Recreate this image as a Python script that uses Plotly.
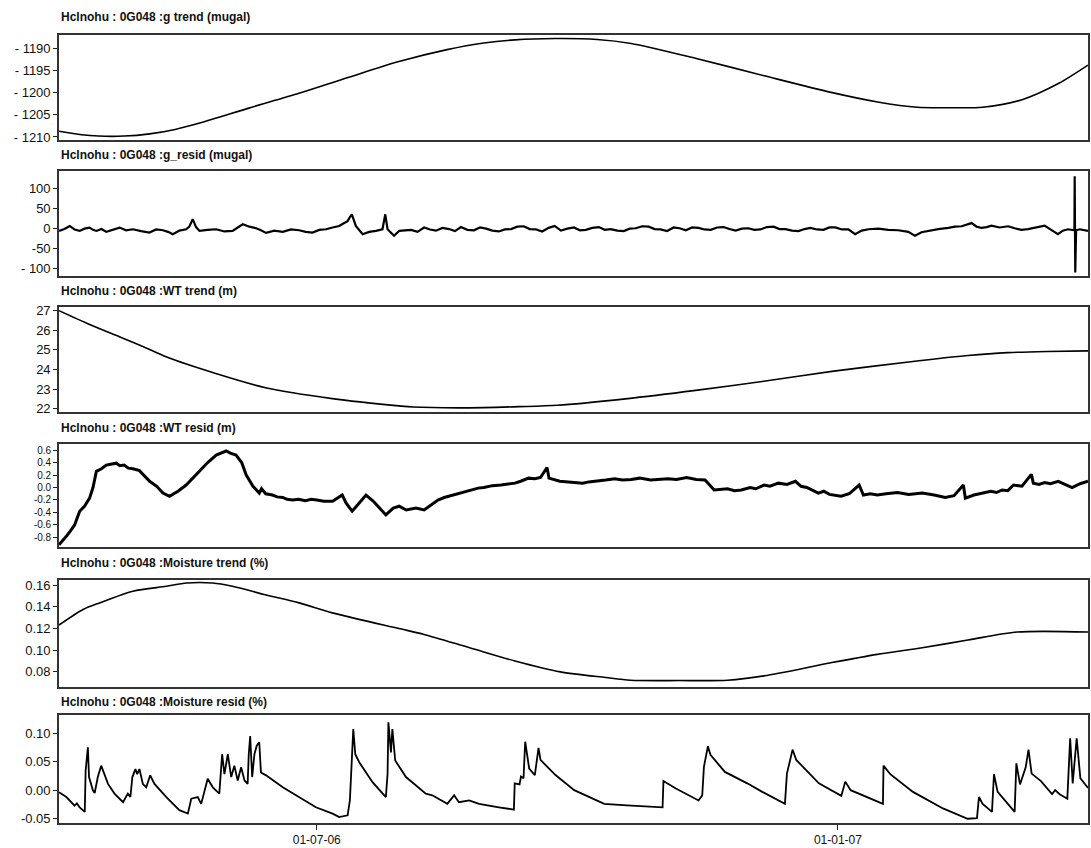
import pandas as pd
import plotly.graph_objects as go
from plotly.subplots import make_subplots

START = pd.Timestamp("2006-04-01")
END = START + pd.Timedelta(days=363.3)

# ---------------- data (days since 2006-04-01, values) ----------------
g_trend_days = [0, 8, 14, 23, 32, 41, 50, 67, 85, 102, 120, 137, 150, 161, 175, 190, 202,
                225, 249, 273, 289, 303, 314, 326, 340, 353, 363.3]
g_trend_vals = [-1208.7, -1209.5, -1209.8, -1209.8, -1209.3, -1208.3, -1206.8, -1203.5, -1200.1,
                -1196.6, -1193.0, -1190.3, -1188.8, -1188.1, -1187.8, -1188.0, -1188.9,
                -1192.3, -1196.2, -1200.0, -1202.1, -1203.3, -1203.4, -1203.3, -1201.6,
                -1197.9, -1193.8]

g_resid_days = [0, 1.9, 3.8, 5.5, 7.3, 9.0, 10.8, 12.0, 13.2, 15.0, 16.7, 19.0, 21.4, 23.7, 26.1,
                29.0, 31.9, 34.3, 36.7, 38.5, 40.2, 42.5, 44.9, 46.0, 47.2, 48.4, 49.6, 52.5,
                55.5, 58.4, 61.3, 63.1, 64.9, 67.2, 69.6, 71.3, 73.1, 76.0, 79.0, 81.9, 84.8,
                87.1, 89.5, 91.9, 94.3, 96.6, 98.9, 100.4, 101.9, 102.7, 103.4, 104.8, 106.0,
                107.2, 109.5, 111.9, 114.2, 115.2, 116.0, 118.3, 120.1, 124.3, 126.6, 128.9,
                131.0, 133.1, 135.4, 137.7, 139.8, 141.9, 144.2, 146.5, 148.6, 150.8, 153.0,
                155.3, 157.4, 159.6, 161.8, 164.1, 166.2, 168.4, 170.6, 172.9, 175.0, 177.2,
                179.5, 181.8, 183.9, 186.0, 188.3, 190.6, 192.7, 194.8, 197.1, 199.4, 201.5,
                203.6, 205.9, 208.2, 210.3, 212.4, 214.7, 217.0, 219.1, 221.3, 223.5, 225.8,
                227.9, 230.1, 232.3, 234.6, 236.7, 238.9, 241.1, 243.4, 245.5, 247.6, 249.9,
                252.3, 254.4, 256.5, 258.8, 261.1, 263.2, 265.3, 267.6, 269.9, 272.0, 274.1,
                276.4, 278.7, 281.1, 283.4, 285.8, 289.3, 292.8, 296.3, 299.9, 302.2, 304.5,
                306.9, 310.4, 314.0, 316.3, 318.7, 320.4, 322.2, 324.0, 325.7, 327.5, 329.2,
                332.1, 335.1, 337.4, 339.8, 342.1, 344.5, 346.2, 348.0, 350.3, 352.7, 354.4,
                356.2, 358.5, 358.6, 358.8, 359.1, 360.4, 361.8, 363.3]
g_resid_vals = [-6.7, -2, 5.8, -3, -6.7, -1, 1.7, -4, -6.7, -2, -9, -3, 1.7, -5, -2.5,
                -7, -10.8, -3, -5, -9, -15, -6, -2.5, 4, 22.5, 3, -6.7, -4,
                -2.5, -8, -6.7, 2, 10, 4, 0, -5, -11.7, -6, -9, -3, -5,
                -9, -10.8, -4, -2.5, 2, 5.8, 12, 18, 28, 35, 5.8, -5,
                -15, -9, -6.7, -2.5, 35, -2.5, -19, -6.7, -4, -9, 2,
                -3, -6, 1, -2, -7, 3, -4, -5, 2, -1, -6,
                -8, -3, -2, 4, 5, -2, -3, -8, 1, 6, -6,
                -1, 2, -5, -4, 1, 3, -4, -2, -6, -7, -1,
                0, 5, 4, -2, -3, -7, 2, 0, -5, 2, 1,
                -3, -4, 2, 3, -2, -6, -1, 0, -4, -3, 3,
                4, -2, -2, -6, -7, -2, 1, -3, -4, 2, 2,
                -3, -2.5, -15, -6, -2.5, -1, -4, -5, -9, -19, -10,
                -6.7, -2, 0.8, 4, 5, 9, 13, 4, 0.8, 3, 6.7,
                2, 5, 0, -4, -2, 0.8, 3, 6.7, -4, -15, -6,
                -2.5, -5, 130.8, -110.8, -5, -2.5, -4, -6.7]

wt_trend_days = [0, 10, 20.3, 30, 38, 55.6, 73.3, 96.5, 120, 125, 143.7, 162.4, 176, 200,
                 224.8, 250, 272.9, 300, 320.9, 335, 348.9, 363.3]
wt_trend_vals = [27.0, 26.35, 25.73, 25.15, 24.63, 23.78, 23.05, 22.51, 22.14, 22.08, 22.04,
                 22.10, 22.17, 22.5, 22.93, 23.42, 23.9, 24.38, 24.71, 24.86, 24.92, 24.95]

wt_resid_days = [0, 1.2, 2.6, 4.0, 5.5, 7.3, 9.0, 10.8, 12.0, 13.2, 15.0, 16.7, 18.5, 20.2,
                 21.5, 23.0, 24.5, 26.1, 28.4, 30.0, 32.0, 34.5, 36.7, 39.0, 42.0, 44.9, 47.0,
                 49.6, 52.5, 55.5, 59.0, 60.5, 62.5, 64.5, 66.1, 68.5, 70.7, 71.5, 73.0, 75.4,
                 77.0, 79.0, 80.5, 82.5, 84.5, 87.0, 89.0, 91.0, 93.5, 96.6, 100.0, 101.4,
                 103.5, 106.0, 108.4, 111.0, 114.1, 115.4, 118.0, 120.1, 122.6, 126.0, 128.9,
                 133.8, 136.0, 139.0, 142.0, 145.0, 148.0, 150.0, 153.0, 156.0, 158.5, 161.0,
                 163.0, 165.8, 168.0, 170.0, 172.3, 173.0, 176.8, 181.0, 184.9, 187.0, 190.0,
                 193.0, 196.2, 199.0, 202.0, 205.0, 208.9, 212.0, 215.0, 218.0, 221.6, 225.0,
                 228.1, 231.3, 233.5, 236.0, 238.5, 240.9, 244.0, 246.0, 248.9, 251.0, 254.0,
                 257.0, 260.0, 262.0, 264.0, 268.1, 270.0, 272.0, 276.1, 279.0, 282.5, 284.0,
                 286.5, 288.9, 292.0, 296.0, 300.0, 304.8, 309.0, 312.9, 316.0, 319.3, 320.0,
                 323.0, 325.0, 329.0, 331.0, 333.0, 335.0, 337.0, 340.0, 343.3, 344.0, 346.0,
                 348.0, 350.0, 352.8, 355.0, 357.7, 360.5, 363.3]
wt_resid_vals = [-0.917, -0.86, -0.78, -0.70, -0.60, -0.38, -0.30, -0.17, 0.0, 0.26, 0.30, 0.36,
                 0.37, 0.39, 0.35, 0.36, 0.31, 0.30, 0.27, 0.20, 0.10, 0.02, -0.09, -0.14,
                 -0.06, 0.04, 0.14, 0.26, 0.40, 0.52, 0.585, 0.55, 0.52, 0.40, 0.20, 0.02,
                 -0.09, -0.02, -0.10, -0.12, -0.15, -0.16, -0.19, -0.20, -0.19, -0.21, -0.19,
                 -0.20, -0.22, -0.22, -0.12, -0.25, -0.38, -0.25, -0.12, -0.22, -0.38, -0.44,
                 -0.33, -0.30, -0.36, -0.33, -0.36, -0.20, -0.16, -0.12, -0.08, -0.04, -0.01,
                 0.0, 0.03, 0.04, 0.06, 0.07, 0.10, 0.15, 0.14, 0.16, 0.32, 0.15, 0.10, 0.09,
                 0.07, 0.09, 0.10, 0.12, 0.14, 0.12, 0.13, 0.15, 0.12, 0.13, 0.14, 0.13, 0.16,
                 0.13, 0.12, -0.04, -0.03, -0.02, -0.05, -0.04, 0.0, -0.02, 0.04, 0.02, 0.07,
                 0.05, 0.10, 0.02, 0.0, -0.09, -0.06, -0.11, -0.14, -0.10, 0.04, -0.12, -0.10,
                 -0.12, -0.10, -0.08, -0.11, -0.09, -0.12, -0.16, -0.13, 0.04, -0.17, -0.12,
                 -0.10, -0.06, -0.08, -0.04, -0.05, 0.04, 0.02, 0.21, 0.07, 0.05, 0.08, 0.06,
                 0.10, 0.05, 0.0, 0.06, 0.10]

mo_trend_days = [0, 8.5, 14.3, 26.1, 37.9, 45, 54.2, 61.2, 73.1, 84.8, 96.5, 120, 128.9, 145.0,
                 161, 177, 193, 201.8, 218.8, 236.1, 248.9, 272.9, 288.9, 304.8, 320.9, 338.3,
                 363.3]
mo_trend_vals = [0.1232, 0.1376, 0.1437, 0.1545, 0.159, 0.162, 0.162, 0.159, 0.151, 0.1437,
                 0.1345, 0.120, 0.1146, 0.1023, 0.0901, 0.080, 0.0748, 0.0723, 0.0720, 0.0723,
                 0.0763, 0.0886, 0.0962, 0.1023, 0.1094, 0.1168, 0.1168]

mo_resid_days = [0, 2.6, 5.5, 6.3, 7.3, 9.1, 9.4, 10.2, 10.6, 12.0, 12.6, 13.7, 14.9, 16.1,
                 17.3, 19.6, 22.6, 24.3, 25.2, 25.9, 27.0, 27.6, 28.4, 29.6, 30.8, 32.2, 33.7,
                 37.9, 42.5, 45.5, 46.7, 49.0, 50.2, 52.5, 54.3, 56.6, 57.6, 58.4, 59.6, 60.8,
                 61.9, 63.1, 64.3, 65.5, 66.6, 67.0, 67.5, 68.2, 69.0, 69.8, 70.7, 71.3, 73.1,
                 79.0, 84.8, 90.7, 96.6, 98.9, 101.9, 102.7, 103.9, 104.6, 106.0, 110.7, 115.4,
                 116.0, 116.3, 117.2, 117.7, 118.7, 122.5, 129.5, 131.8, 137.1, 139.5, 141.2,
                 144.8, 148.3, 155.3, 160.6, 160.9, 162.6, 163.1, 164.0, 164.6, 165.3, 166.0,
                 168.0, 169.3, 170.0, 175.3, 181.9, 188.5, 192.5, 200.5, 213.1, 213.4, 217.8,
                 225.8, 227.1, 227.7, 229.1, 230.0, 235.1, 243.0, 248.3, 256.3, 257.0, 259.0,
                 260.3, 268.3, 276.2, 277.6, 279.5, 290.9, 291.1, 293.5, 294.8, 301.5, 312.1,
                 320.8, 324.1, 324.8, 326.1, 329.4, 330.1, 331.4, 337.4, 338.0, 339.3, 341.3,
                 342.3, 343.4, 346.7, 350.6, 351.7, 353.3, 356.0, 357.0, 357.9, 359.3, 360.6,
                 363.3]
mo_resid_vals = [-0.0035, -0.012, -0.027, -0.023, -0.030, -0.038, 0.034, 0.075, 0.023, -0.0006,
                 -0.005, 0.023, 0.043, 0.026, 0.011, -0.006, -0.021, -0.006, -0.012, 0.023,
                 0.037, 0.028, 0.037, 0.011, 0.005, 0.026, 0.011, -0.012, -0.035, -0.041,
                 -0.015, -0.012, -0.024, 0.020, 0.005, -0.006, 0.063, 0.028, 0.063, 0.023,
                 0.043, 0.017, 0.040, 0.017, 0.011, 0.063, 0.095, 0.023, 0.063, 0.078, 0.084,
                 0.031, 0.026, 0.005, -0.012, -0.030, -0.041, -0.047, -0.044, -0.018, 0.107,
                 0.063, 0.049, 0.014, -0.012, 0.028, 0.119, 0.066, 0.107, 0.052, 0.023,
                 -0.006, -0.009, -0.024, -0.009, -0.021, -0.018, -0.024, -0.030, -0.034,
                 0.012, 0.010, 0.024, 0.021, 0.085, 0.056, 0.038, 0.0265, 0.074, 0.053,
                 0.0265, 0.000, -0.015, -0.024, -0.0265, -0.030, 0.016, 0.003, -0.018, -0.009,
                 0.041, 0.077, 0.062, 0.032, 0.012, -0.003, -0.024, 0.029, 0.071, 0.053,
                 0.012, -0.010, 0.015, 0.000, -0.024, 0.043, 0.028, 0.023, -0.003, -0.032,
                 -0.050, -0.049, -0.012, -0.024, -0.038, 0.028, -0.003, -0.038, 0.047, 0.010,
                 0.040, 0.071, 0.029, 0.016, -0.007, 0.000, -0.007, -0.015, 0.091, 0.012,
                 0.091, 0.021, 0.004]

titles = ["Hclnohu : 0G048 :g trend (mugal)",
          "Hclnohu : 0G048 :g_resid (mugal)",
          "Hclnohu : 0G048 :WT trend (m)",
          "Hclnohu : 0G048 :WT resid (m)",
          "Hclnohu : 0G048 :Moisture trend (%)",
          "Hclnohu : 0G048 :Moisture resid (%)"]

ytickvals = [[-1190, -1195, -1200, -1205, -1210],
             [100, 50, 0, -50, -100],
             [27, 26, 25, 24, 23, 22],
             [0.6, 0.4, 0.2, 0.0, -0.2, -0.4, -0.6, -0.8],
             [0.16, 0.14, 0.12, 0.10, 0.08],
             [0.10, 0.05, 0.00, -0.05]]
yticktext = [["- 1190", "- 1195", "- 1200", "- 1205", "- 1210"],
             ["100", "50", "0", "-50", "- 100"],
             ["27", "26", "25", "24", "23", "22"],
             ["0.6", "0.4", "0.2", "0.0", "-0.2", "-0.4", "-0.6", "-0.8"],
             ["0.16", "0.14", "0.12", "0.10", "0.08"],
             ["0.10", "0.05", "0.00", "-0.05"]]
yranges = [[-1210.6, -1187.0], [-120, 142.5], [21.85, 27.19], [-0.954, 0.69],
           [0.0665, 0.1649], [-0.0575, 0.131]]
ytick_size = [13, 13, 13, 10, 13, 13]

xtick_dates = ["2006-07-01", "2007-01-01"]
xtick_text = ["01-07-06", "01-01-07"]

# (days, values, line width, shape)
series = [(g_trend_days, g_trend_vals, 1.6, "spline"),
          (g_resid_days, g_resid_vals, 2.2, "linear"),
          (wt_trend_days, wt_trend_vals, 1.6, "spline"),
          (wt_resid_days, wt_resid_vals, 3.0, "linear"),
          (mo_trend_days, mo_trend_vals, 1.6, "spline"),
          (mo_resid_days, mo_resid_vals, 1.8, "linear")]

# ---------------- layout geometry ----------------
W, H = 1091, 848
MT, MB = 35, 22
panel_px = [(35, 140), (172, 277), (308, 413), (446, 549), (582, 689), (718, 826)]
title_shift = [18, 16.5, 15.5, 16, 17, 13.5]
plot_h = H - MT - MB

fig = make_subplots(rows=6, cols=1, shared_xaxes=False)

font_family = "Liberation Sans, Arial, sans-serif"

for i, (days, vals, lw, shape) in enumerate(series):
    xs = [START + pd.Timedelta(days=d) for d in days]
    line = dict(color="black", width=lw, shape=shape)
    if shape == "spline":
        line["smoothing"] = 0.8
    fig.add_trace(go.Scatter(x=xs, y=vals, mode="lines", line=line,
                             showlegend=False, hoverinfo="skip"), row=i + 1, col=1)

for i in range(6):
    top, bot = panel_px[i]
    d0 = (H - MB - bot) / plot_h
    d1 = (H - MB - top) / plot_h
    ax = "yaxis" if i == 0 else f"yaxis{i + 1}"
    xa = "xaxis" if i == 0 else f"xaxis{i + 1}"
    last = i == 5
    fig.layout[ax].update(domain=[d0, d1], range=yranges[i], tickvals=ytickvals[i],
                          ticktext=yticktext[i], ticks="outside", ticklen=4, tickwidth=1.2,
                          tickcolor="#222", showline=True, mirror=True, linecolor="#333",
                          linewidth=1.6, showgrid=False, zeroline=False,
                          tickfont=dict(family=font_family, size=ytick_size[i], color="#111"))
    fig.layout[xa].update(type="date", range=[START, END], showline=True, mirror=True,
                          linecolor="#333", linewidth=1.6, showgrid=False, zeroline=False,
                          tickvals=xtick_dates if last else [],
                          ticktext=xtick_text if last else [],
                          ticks="outside" if last else "", ticklen=5, tickwidth=1.2,
                          tickcolor="#222", showticklabels=last,
                          tickfont=dict(family=font_family, size=12, color="#111"))
    fig.add_annotation(text="<b>" + titles[i] + "</b>", xref="paper", yref="paper",
                       x=0, y=d1, xanchor="left", yanchor="middle", yshift=title_shift[i],
                       showarrow=False,
                       font=dict(family=font_family, size=12, color="#111"))

fig.update_layout(width=W, height=H, margin=dict(l=59, r=1, t=MT, b=MB),
                  paper_bgcolor="white", plot_bgcolor="white")

fig.write_html("out.html")
